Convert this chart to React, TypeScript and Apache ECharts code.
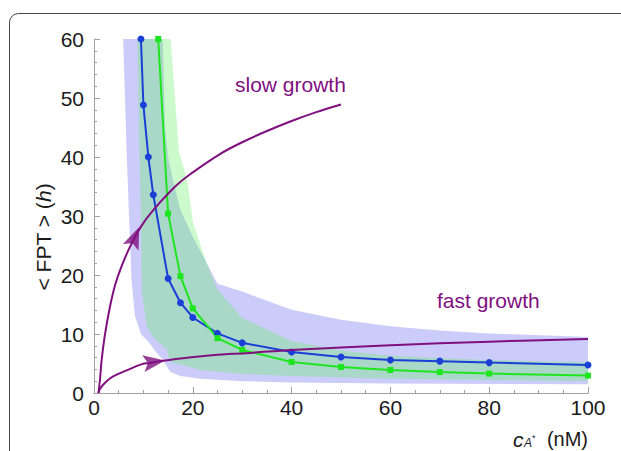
import React, { useEffect, useRef } from "react";
import * as echarts from "echarts";

// ---- data ----
const xTicks = [0, 20, 40, 60, 80, 100];
const yTicks = [0, 10, 20, 30, 40, 50, 60];

const blueX = [9.5, 10, 11, 12, 15, 17.5, 20, 25, 30, 40, 50, 60, 70, 80, 100];
const blueY = [60, 48.8, 40.0, 33.6, 19.4, 15.3, 12.8, 10.1, 8.5, 6.95, 6.1, 5.6, 5.4, 5.15, 4.75];

const greenX = [13, 15, 17.5, 20, 25, 30, 40, 50, 60, 70, 80, 100];
const greenY = [60, 30.4, 19.8, 14.35, 9.3, 7.3, 5.25, 4.4, 3.9, 3.55, 3.3, 2.95];

// band edges (x, y) pairs
const blueBandLower = [
  [5.9, 60], [6.6, 41], [7.0, 32], [7.6, 19], [8.3, 13], [9.5, 10], [11.3, 8.4],
  [12.5, 7], [14, 5.6], [15.4, 3.6], [17.5, 2.9], [21.5, 2.4], [30, 2.0], [40, 1.8],
  [60, 1.6], [100, 1.5],
];
const blueBandUpper = [
  [100, 9.5], [80, 10.1], [70, 10.6], [60, 11.3], [50, 12.4], [40, 14.1], [30, 17.2],
  [25, 18.5], [22.5, 22.5], [20, 26.5], [17.5, 31], [16, 36], [15, 40], [14.4, 45], [13.9, 60],
];
const greenBandLower = [
  [8.8, 60], [9.2, 41], [9.5, 30], [9.7, 17], [10.7, 11.2], [12.5, 9.0], [14.7, 7.5],
  [15.4, 5.2], [19.4, 4.4], [21.5, 3.9], [30, 3.2], [40, 2.9], [60, 2.4], [100, 2.0],
];
const greenBandUpper = [
  [100, 5.2], [80, 5.6], [70, 5.9], [60, 6.3], [50, 7.2], [40, 8.8], [30, 12.7],
  [25, 17.5], [22.8, 22], [20, 29], [19, 35.5], [17.2, 41], [15.5, 60],
];

const slowGrowth = [
  [0.9, 0], [1.2, 2.2], [1.55, 5.6], [2.2, 9.8], [3.2, 14.5], [4.3, 18.4], [5.5, 21.3],
  [7.3, 24.8], [9.5, 28.2], [12, 31], [16.7, 35.2], [20, 37.4], [25.5, 40.5], [30, 42.5],
  [35, 44.4], [40, 46.1], [45, 47.6], [50, 48.9],
];
const fastGrowth = [
  [0.9, 0], [1.3, 0.8], [2.2, 1.7], [3.3, 2.5], [4.6, 3.1], [6.5, 3.8], [9.7, 4.9],
  [11.3, 5.1], [14, 5.45], [18, 5.9], [24, 6.4], [31.6, 6.8], [40, 7.3], [60, 8.1],
  [80, 8.7], [100, 9.15],
];

const slowArrow = [8.3, 26.4];
const fastArrow = [12.2, 5.25];

const FONT = "'Liberation Sans', Arial, Helvetica, sans-serif";
const PURPLE = "#80107f";
const BLUE = "#1a3fd6";
const GREEN = "#1ee61e";
const ARROW = "path://M10,0 L20,24 L10,19 L0,24 Z";

function zip(xs: number[], ys: number[]) {
  return xs.map((x, i) => [x, ys[i]]);
}

function bandSeries(lower: number[][], upper: number[][], fill: string, z: number) {
  const poly = lower.concat(upper);
  return {
    type: "custom",
    coordinateSystem: "cartesian2d",
    data: [[poly[0][0], poly[0][1]]],
    silent: true,
    z,
    renderItem: (_params: any, api: any) => ({
      type: "polygon",
      shape: { points: poly.map((p) => api.coord(p)) },
      style: { fill },
    }),
  };
}

export default function App() {
  const ref = useRef<HTMLDivElement>(null);
  useEffect(() => {
    if (!ref.current) return;
    const chart = echarts.init(ref.current, undefined, { renderer: "svg" });
    const axisColor = "#a0a0a0";
    chart.setOption({
      animation: false,
      grid: { left: 94, right: 33, top: 39, bottom: 58 },
      xAxis: {
        type: "value",
        min: xTicks[0],
        max: xTicks[xTicks.length - 1],
        interval: xTicks[1] - xTicks[0],
        axisLine: { lineStyle: { color: axisColor, width: 1 } },
        axisTick: { inside: true, length: 6, lineStyle: { color: axisColor } },
        minorTick: { show: true, splitNumber: 4, length: 3, lineStyle: { color: axisColor } },
        splitLine: { show: false },
        axisLabel: { fontSize: 21, color: "#1a1a1a", margin: 4, fontFamily: FONT },
      },
      yAxis: {
        type: "value",
        min: yTicks[0],
        max: yTicks[yTicks.length - 1],
        interval: yTicks[1] - yTicks[0],
        axisLine: { show: true, lineStyle: { color: axisColor, width: 1 } },
        axisTick: { show: true, inside: true, length: 6, lineStyle: { color: axisColor } },
        minorTick: { show: true, splitNumber: 5, length: 3, lineStyle: { color: axisColor } },
        splitLine: { show: false },
        axisLabel: { fontSize: 21, color: "#1a1a1a", margin: 10, fontFamily: FONT },
      },
      graphic: [
        {
          type: "rect",
          silent: true,
          shape: { x: 9.5, y: 13.5, width: 700, height: 600, r: 9 },
          style: { fill: "none", stroke: "#444", lineWidth: 1 },
        },
        {
          type: "text",
          x: 235,
          y: 84,
          style: { text: "slow growth", fill: PURPLE, font: `21px ${FONT}`, verticalAlign: "middle", align: "left" },
        },
        {
          type: "text",
          x: 437,
          y: 300,
          style: { text: "fast growth", fill: PURPLE, font: `21px ${FONT}`, verticalAlign: "middle", align: "left" },
        },
        {
          type: "text",
          x: 43,
          y: 237,
          rotation: Math.PI / 2,
          style: {
            text: "< FPT > ({i|h})",
            fill: "#1a1a1a",
            font: `21px ${FONT}`,
            align: "center",
            verticalAlign: "middle",
            rich: { i: { fontStyle: "italic", fontSize: 21, fontFamily: FONT, fill: "#1a1a1a" } },
          },
        },
        {
          type: "text",
          x: 588,
          y: 439,
          style: { text: "(nM)", fill: "#1a1a1a", font: `20px ${FONT}`, align: "right", verticalAlign: "middle" },
        },
        {
          type: "text",
          x: 513,
          y: 439,
          style: { text: "c", fill: "#1a1a1a", font: `italic 21px ${FONT}`, align: "left", verticalAlign: "middle" },
        },
        {
          type: "text",
          x: 524,
          y: 443,
          style: { text: "A", fill: "#1a1a1a", font: `italic 12px ${FONT}`, align: "left", verticalAlign: "middle" },
        },
        {
          type: "text",
          x: 532,
          y: 438,
          style: { text: "*", fill: "#1a1a1a", font: `9px ${FONT}`, align: "left", verticalAlign: "middle" },
        },
      ],
      series: [
        bandSeries(blueBandLower, blueBandUpper, "rgba(100,100,240,0.33)", 1),
        bandSeries(greenBandLower, greenBandUpper, "rgba(100,240,100,0.33)", 2),
        {
          type: "line",
          data: zip(blueX, blueY),
          symbol: "circle",
          symbolSize: 7,
          itemStyle: { color: BLUE },
          lineStyle: { color: BLUE, width: 2 },
          z: 3,
        },
        {
          type: "line",
          data: zip(greenX, greenY),
          symbol: "rect",
          symbolSize: 6,
          itemStyle: { color: GREEN },
          lineStyle: { color: GREEN, width: 2 },
          z: 3,
        },
        {
          type: "line",
          data: slowGrowth,
          smooth: 0.4,
          showSymbol: false,
          lineStyle: { color: PURPLE, width: 2 },
          z: 4,
        },
        {
          type: "line",
          data: fastGrowth,
          smooth: 0.4,
          showSymbol: false,
          lineStyle: { color: PURPLE, width: 2 },
          z: 4,
        },
        {
          type: "scatter",
          data: [{ value: slowArrow, symbolRotate: -23 }, { value: fastArrow, symbolRotate: -82 }],
          symbol: ARROW,
          symbolSize: [17, 22],
          itemStyle: { color: PURPLE },
          z: 5,
        },
      ],
    });
    return () => chart.dispose();
  }, []);
  return (
    <div
      ref={ref}
      style={{ position: "fixed", left: 0, top: 0, width: 621, height: 451, background: "#fff" }}
    />
  );
}
